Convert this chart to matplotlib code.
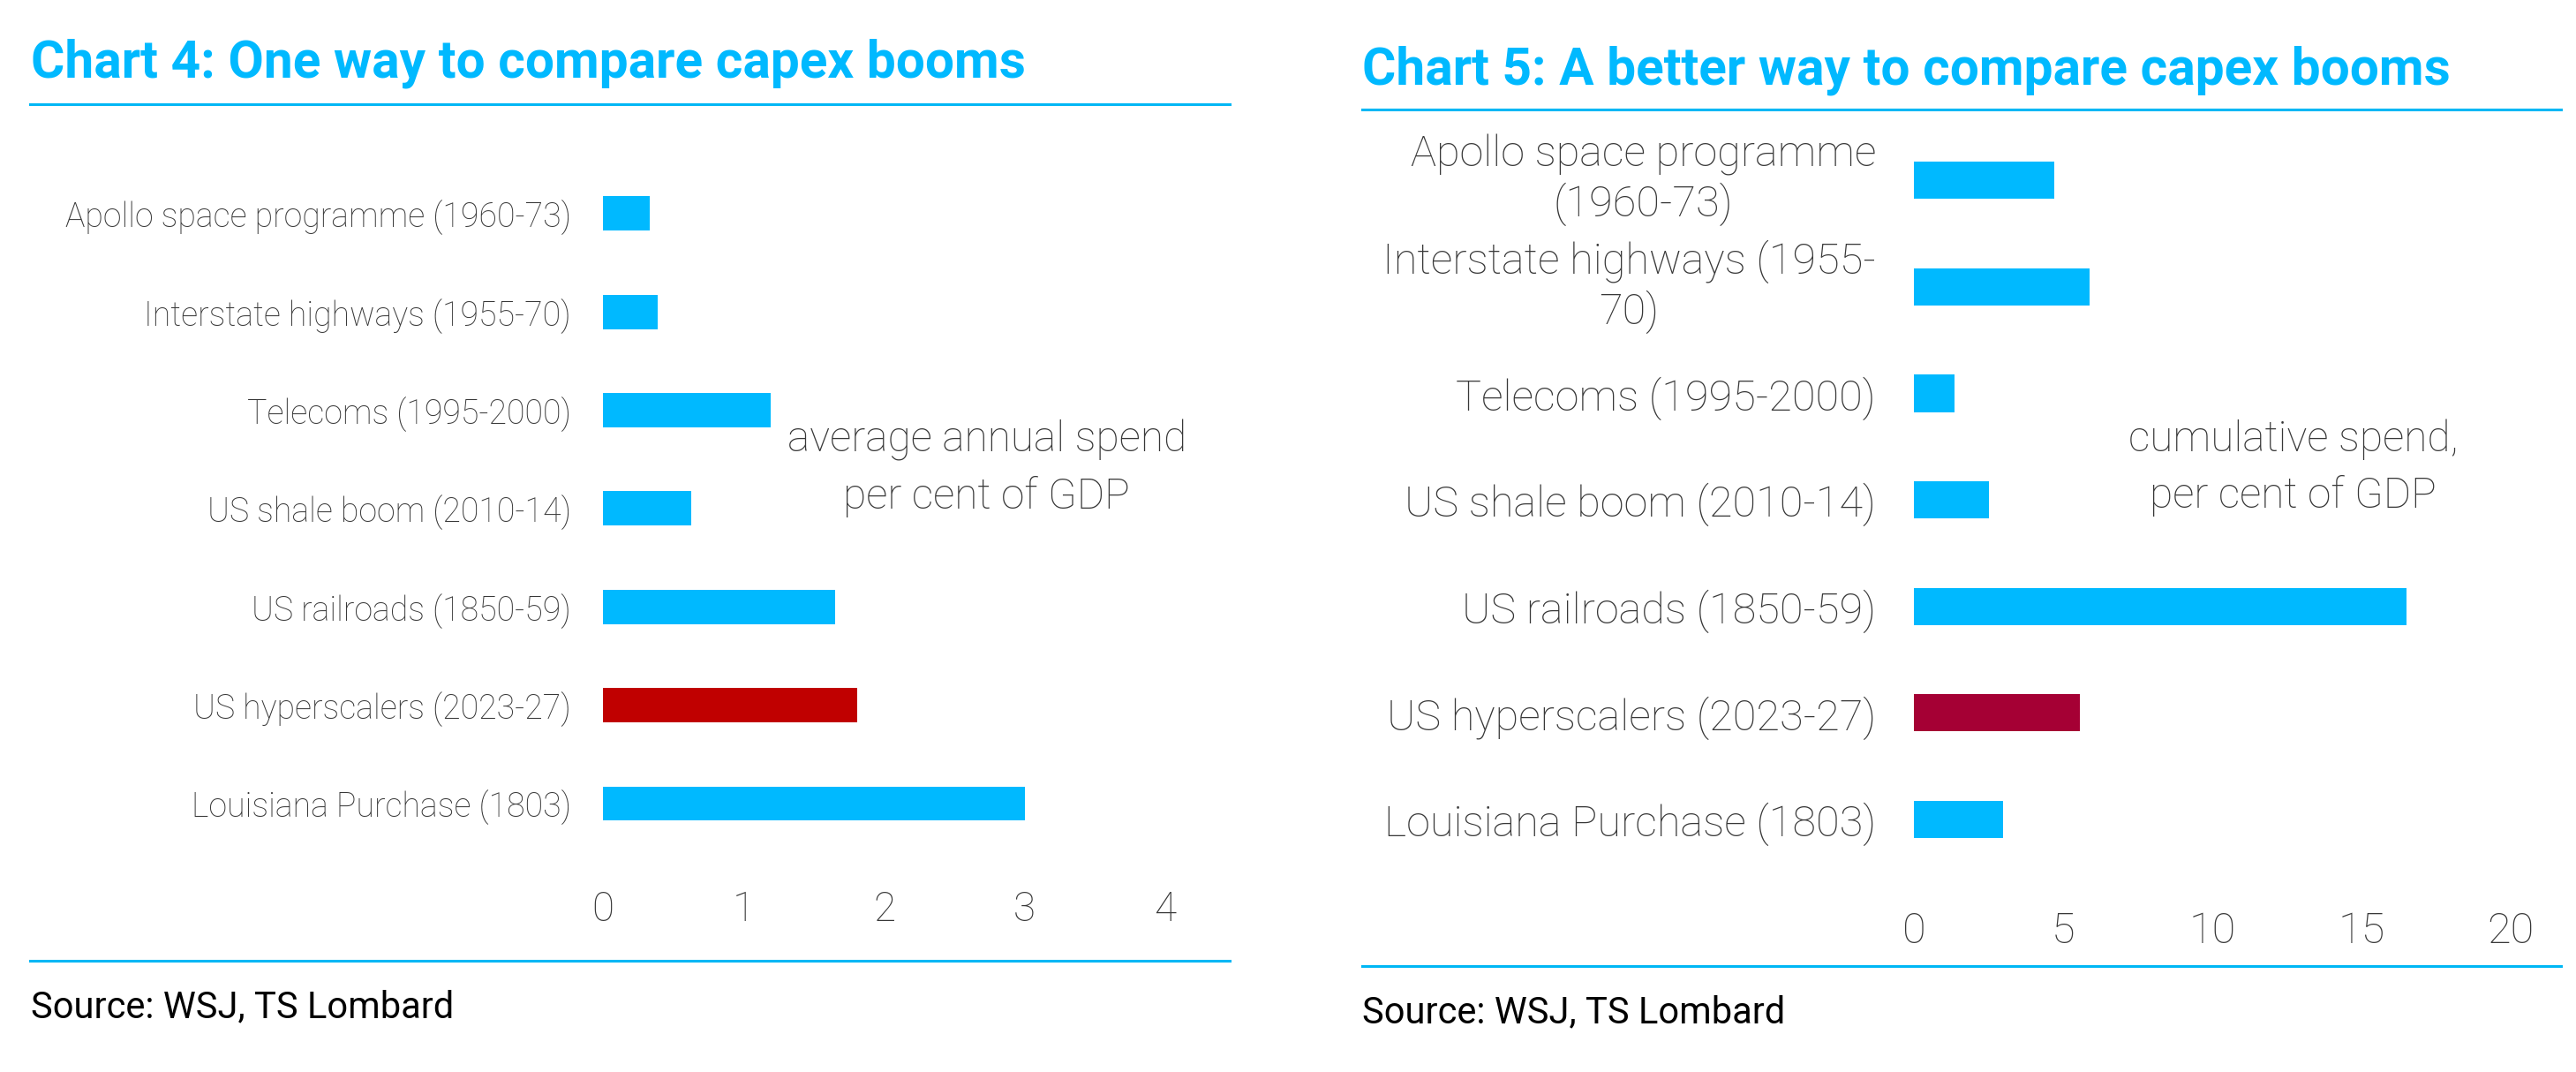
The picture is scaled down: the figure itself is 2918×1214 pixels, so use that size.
import numpy as np
import matplotlib.pyplot as plt
from matplotlib.lines import Line2D

plt.rcParams['font.family'] = ['Roboto', 'DejaVu Sans']

# data (top to bottom as shown)
labels_left = ["Apollo space programme (1960-73)", "Interstate highways (1955-70)",
               "Telecoms (1995-2000)", "US shale boom (2010-14)", "US railroads (1850-59)",
               "US hyperscalers (2023-27)", "Louisiana Purchase (1803)"]
avg_annual = [0.33, 0.39, 1.19, 0.63, 1.65, 1.81, 3.0]

labels_right = ["Apollo space programme\n(1960-73)", "Interstate highways (1955-\n70)",
                "Telecoms (1995-2000)", "US shale boom (2010-14)", "US railroads (1850-59)",
                "US hyperscalers (2023-27)", "Louisiana Purchase (1803)"]
cumulative = [4.7, 5.9, 1.35, 2.5, 16.5, 5.55, 3.0]

highlight = "US hyperscalers (2023-27)"
ticks_left = [0, 1, 2, 3, 4]
ticks_right = [0, 5, 10, 15, 20]

BLUE = "#00B9FF"
LINE = "#00B7F5"
GREY = "#383838"

W, H = 2918, 1214
fig = plt.figure(figsize=(W / 100, H / 100), dpi=100)


def px(x0, y0, x1, y1):
    # pixel box (top-left origin) -> figure fraction rect
    return [x0 / W, 1 - y1 / H, (x1 - x0) / W, (y1 - y0) / H]


def style(ax, labels, ticks, lab_size, tick_size, pad):
    for s in ax.spines.values():
        s.set_visible(False)
    ax.set_yticks(np.arange(len(labels))[::-1])
    ax.set_yticklabels(labels, fontsize=lab_size, color=GREY, fontweight='light',
                       multialignment='center')
    for t in ax.get_yticklabels():
        if "\n" in t.get_text():
            t.set_va('center')
    ax.set_xticks(ticks)
    ax.set_xticklabels([str(t) for t in ticks], fontsize=tick_size, color=GREY,
                       fontweight='light')
    ax.tick_params(axis='both', length=0)
    ax.tick_params(axis='y', pad=pad)
    ax.tick_params(axis='x', pad=0)


# ---- left chart
axL = fig.add_axes(px(683, 175, 1320, 1008))
yL = np.arange(len(labels_left))[::-1]
colL = ["#C00000" if l == highlight else BLUE for l in labels_left]
axL.barh(yL, avg_annual, height=0.35, color=colL)
axL.set_xlim(0, 4)
axL.set_ylim(-0.88, 6.6)
style(axL, labels_left, ticks_left, 27, 33, 26)
axL.text(2.73, 3.41, "average annual spend\nper cent of GDP", ha='center', va='center',
         fontsize=34.5, color=GREY, fontweight='light', linespacing=1.47)

# ---- right chart
axR = fig.add_axes(px(2168, 144, 2844, 1031))
yR = np.arange(len(labels_right))[::-1]
colR = ["#A50034" if l == highlight else BLUE for l in labels_right]
axR.barh(yR, cumulative, height=0.35, color=colR)
axR.set_xlim(0, 20)
axR.set_ylim(-0.854, 6.5)
style(axR, labels_right, ticks_right, 35, 35, 31)
axR.text(12.72, 3.30, "cumulative spend,\nper cent of GDP", ha='center', va='center',
         fontsize=34.5, color=GREY, fontweight='light', linespacing=1.47)

# ---- titles, rules, sources
fig.text(35 / W, 1 - 88 / H, "Chart 4: One way to compare capex booms", fontsize=42.2,
         fontweight='bold', color=BLUE, va='baseline')
fig.text(1543 / W, 1 - 96 / H, "Chart 5: A better way to compare capex booms", fontsize=42.2,
         fontweight='bold', color=BLUE, va='baseline')

for x0, x1, y in [(34, 1393, 118), (34, 1393, 1088), (1543, 2901, 124), (1543, 2901, 1094)]:
    fig.add_artist(Line2D([x0 / W, x1 / W], [1 - y / H, 1 - y / H], color=LINE, lw=2.2))

fig.text(35 / W, 1 - 1152 / H, "Source: WSJ, TS Lombard", fontsize=30, color="black",
         va='baseline')
fig.text(1543 / W, 1 - 1158 / H, "Source: WSJ, TS Lombard", fontsize=30, color="black",
         va='baseline')

fig.savefig("out.png", dpi=100)
